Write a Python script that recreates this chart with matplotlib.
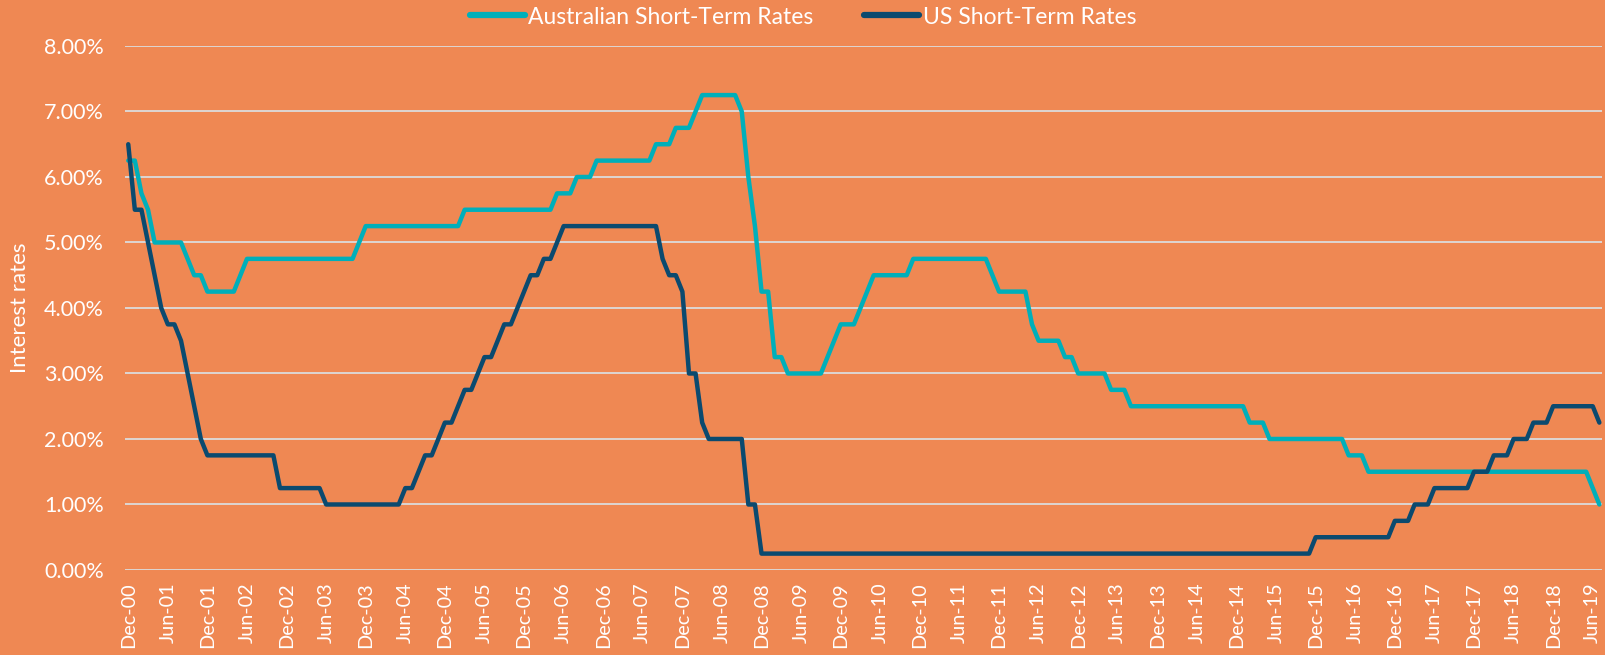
import matplotlib
matplotlib.use("Agg")
import matplotlib.pyplot as plt
from matplotlib.ticker import PercentFormatter
import pandas as pd

# month-end cash rates (%), Dec-00 .. Jul-19
au_rates = (
    [6.25]
    + [6.25, 5.75, 5.5, 5.0, 5.0, 5.0, 5.0, 5.0, 4.75, 4.5, 4.5, 4.25]  # 2001
    + [4.25, 4.25, 4.25, 4.25, 4.5, 4.75, 4.75, 4.75, 4.75, 4.75, 4.75, 4.75]  # 2002
    + [4.75] * 10 + [5.0, 5.25]  # 2003
    + [5.25] * 12  # 2004
    + [5.25, 5.25] + [5.5] * 10  # 2005
    + [5.5] * 4 + [5.75, 5.75, 5.75, 6.0, 6.0, 6.0, 6.25, 6.25]  # 2006
    + [6.25] * 7 + [6.5, 6.5, 6.5, 6.75, 6.75]  # 2007
    + [6.75, 7.0] + [7.25] * 6 + [7.0, 6.0, 5.25, 4.25]  # 2008
    + [4.25, 3.25, 3.25] + [3.0] * 6 + [3.25, 3.5, 3.75]  # 2009
    + [3.75, 3.75, 4.0, 4.25] + [4.5] * 6 + [4.75, 4.75]  # 2010
    + [4.75] * 10 + [4.5, 4.25]  # 2011
    + [4.25] * 4 + [3.75] + [3.5] * 4 + [3.25, 3.25, 3.0]  # 2012
    + [3.0] * 4 + [2.75] * 3 + [2.5] * 5  # 2013
    + [2.5] * 12  # 2014
    + [2.5] + [2.25] * 3 + [2.0] * 8  # 2015
    + [2.0] * 4 + [1.75] * 3 + [1.5] * 5  # 2016
    + [1.5] * 12  # 2017
    + [1.5] * 12  # 2018
    + [1.5] * 5 + [1.25, 1.0]  # 2019
)

us_rates = (
    [6.5]
    + [5.5, 5.5, 5.0, 4.5, 4.0, 3.75, 3.75, 3.5, 3.0, 2.5, 2.0, 1.75]  # 2001
    + [1.75] * 10 + [1.25, 1.25]  # 2002
    + [1.25] * 5 + [1.0] * 7  # 2003
    + [1.0] * 5 + [1.25, 1.25, 1.5, 1.75, 1.75, 2.0, 2.25]  # 2004
    + [2.25, 2.5, 2.75, 2.75, 3.0, 3.25, 3.25, 3.5, 3.75, 3.75, 4.0, 4.25]  # 2005
    + [4.5, 4.5, 4.75, 4.75, 5.0] + [5.25] * 7  # 2006
    + [5.25] * 8 + [4.75, 4.5, 4.5, 4.25]  # 2007
    + [3.0, 3.0, 2.25] + [2.0] * 6 + [1.0, 1.0, 0.25]  # 2008
    + [0.25] * 12 * 6  # 2009-2014
    + [0.25] * 11 + [0.5]  # 2015
    + [0.5] * 11 + [0.75]  # 2016
    + [0.75, 0.75, 1.0, 1.0, 1.0] + [1.25] * 6 + [1.5]  # 2017
    + [1.5, 1.5, 1.75, 1.75, 1.75, 2.0, 2.0, 2.0, 2.25, 2.25, 2.25, 2.5]  # 2018
    + [2.5] * 6 + [2.25]  # 2019
)

months = pd.date_range("2000-12-01", periods=len(au_rates), freq="MS")
month_labels = [m.strftime("%b-%y") for m in months]

BG = "#EF8853"
TEAL = "#00AFBA"
NAVY = "#0B4A6F"
GRID = "#DCDCDC"
FONT = "Lato"

plt.rcParams["font.family"] = [FONT, "DejaVu Sans"]

fig = plt.figure(figsize=(16.06, 6.55), dpi=100, facecolor=BG)
ax = fig.add_axes([0.0778, 0.1298, 0.9197, 0.80])
ax.set_facecolor(BG)

x = list(range(len(months)))
ax.plot(x, au_rates, color=TEAL, lw=3.2, solid_joinstyle="round",
        solid_capstyle="round", label="Australian Short-Term Rates", zorder=3)
ax.plot(x, us_rates, color=NAVY, lw=3.2, solid_joinstyle="round",
        solid_capstyle="round", label="US Short-Term Rates", zorder=3)

ax.set_ylim(0, 8)
ax.set_yticks([0, 1, 2, 3, 4, 5, 6, 7, 8])
ax.yaxis.set_major_formatter(PercentFormatter(100, decimals=2))
ax.set_xlim(-0.5, len(x) - 0.6)
ax.set_xticks(x[::6])
ax.set_xticklabels(month_labels[::6], rotation=90, va="top", ha="center")

ax.grid(axis="y", color=GRID, lw=1.3)
ax.set_axisbelow(True)
for s in ax.spines.values():
    s.set_visible(False)
ax.tick_params(length=0, colors="white")
ax.tick_params(axis="y", pad=15, labelsize=15.5)
ax.tick_params(axis="x", pad=9, labelsize=14.3)

ax.set_ylabel("Interest rates", color="white", fontsize=16, labelpad=10)

leg = fig.legend(loc="center", bbox_to_anchor=(0.5, 1 - 17 / 655), ncol=2,
                 frameon=False, fontsize=16.5, handlelength=2.4, handletextpad=0.15,
                 columnspacing=2.2, labelcolor="white")
for line in leg.get_lines():
    line.set_linewidth(4.5)

fig.savefig("out.png", dpi=100, facecolor=BG)
